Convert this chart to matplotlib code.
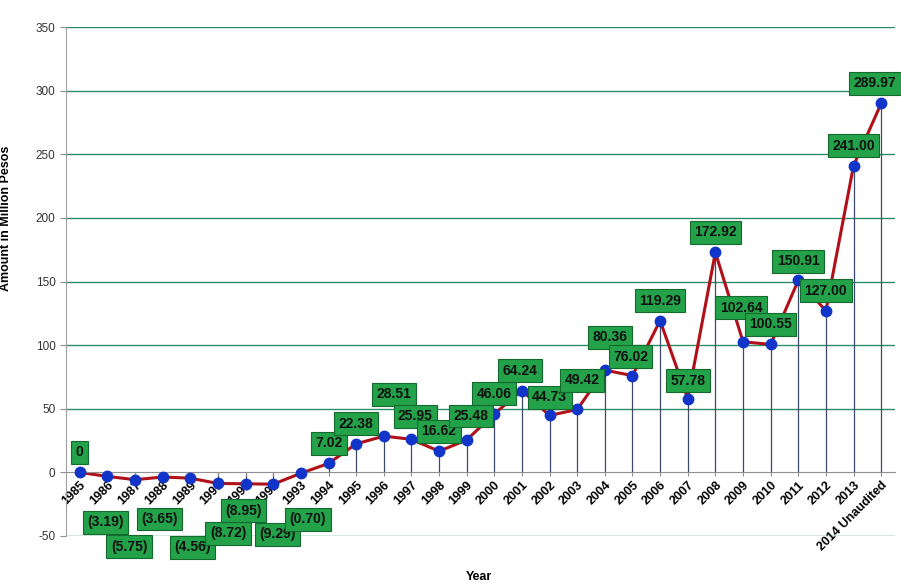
import matplotlib
matplotlib.use("Agg")
import matplotlib.pyplot as plt

plt.rcParams["font.family"] = ["Liberation Sans", "DejaVu Sans"]
plt.rcParams["axes.unicode_minus"] = False


years = ["1985", "1986", "1987", "1988", "1989", "1990", "1991", "1992", "1993",
         "1994", "1995", "1996", "1997", "1998", "1999", "2000", "2001", "2002",
         "2003", "2004", "2005", "2006", "2007", "2008", "2009", "2010", "2011",
         "2012", "2013", "2014 Unaudited"]
amounts = [0, -3.19, -5.75, -3.65, -4.56, -8.72, -8.95, -9.29, -0.70,
           7.02, 22.38, 28.51, 25.95, 16.62, 25.48, 46.06, 64.24, 44.73,
           49.42, 80.36, 76.02, 119.29, 57.78, 172.92, 102.64, 100.55, 150.91,
           127.00, 241.00, 289.97]
labels = ["0", "(3.19)", "(5.75)", "(3.65)", "(4.56)", "(8.72)", "(8.95)", "(9.29)", "(0.70)",
          "7.02", "22.38", "28.51", "25.95", "16.62", "25.48", "46.06", "64.24", "44.73",
          "49.42", "80.36", "76.02", "119.29", "57.78", "172.92", "102.64", "100.55", "150.91",
          "127.00", "241.00", "289.97"]

# label box offsets in pixels (dx, dy up)
offsets = [(0, 20), (-2, -46), (-6, -67), (-3, -42), (2, -69), (10, -50), (-2, -27),
           (4, -50), (7, -46), (0, 20), (0, 20), (10, 42), (4, 23), (0, 20), (4, 24),
           (0, 20), (-2, 20), (0, 18), (5, 29), (5, 33), (-2, 19), (0, 20), (0, 18),
           (0, 20), (-2, 34), (0, 20), (0, 19), (0, 20), (0, 20), (-6, 20)]

fig = plt.figure(figsize=(9.01, 5.83), dpi=100)
ax = fig.add_axes([66 / 901, 1 - 536 / 583, 829 / 901, 509 / 583])

x = list(range(len(years)))

ax.set_xlim(-0.5, len(years) - 0.5)
ax.set_ylim(-50, 350)
ax.set_yticks(range(-50, 351, 50))
for yv in range(-50, 351, 50):
    if yv != 0:
        ax.axhline(yv, color="#2b8c6a", lw=1.0, zorder=0)

ax.vlines(x, 0, amounts, color="#3a4a68", lw=0.9, zorder=1)
ax.plot(x, amounts, color="#b01018", lw=2.2, zorder=2)
ax.plot(x, amounts, "o", color="#1035c8", markersize=7.5, zorder=3)

for i, (lab, off) in enumerate(zip(labels, offsets)):
    ax.annotate(lab, (x[i], amounts[i]), xytext=off, textcoords="offset pixels",
                ha="center", va="center", fontsize=10, fontweight="bold", color="#111111",
                bbox=dict(boxstyle="square,pad=0.32", fc="#23a24a", ec="#146a2c", lw=0.8),
                zorder=5, annotation_clip=False)

for side in ["top", "right"]:
    ax.spines[side].set_visible(False)
ax.spines["left"].set_color("#a0a0a0")
ax.spines["bottom"].set_position(("data", 0))
ax.spines["bottom"].set_color("#909090")

ax.set_xticks(x)
ax.set_xticklabels(years, rotation=45, ha="right", rotation_mode="anchor",
                   fontsize=9, fontweight="bold")
ax.tick_params(axis="x", length=3, color="#909090", pad=2)
ax.tick_params(axis="y", length=4, color="#909090", labelsize=8.5, labelcolor="#333333")

ax.set_ylabel("Amount in Million Pesos", fontsize=9, fontweight="bold")
ax.yaxis.set_label_coords(-0.065, 0.625)
fig.text(479 / 901, 1 - 577 / 583, "Year", ha="center", va="center",
         fontsize=9, fontweight="bold")

fig.savefig("out.png", dpi=100)
